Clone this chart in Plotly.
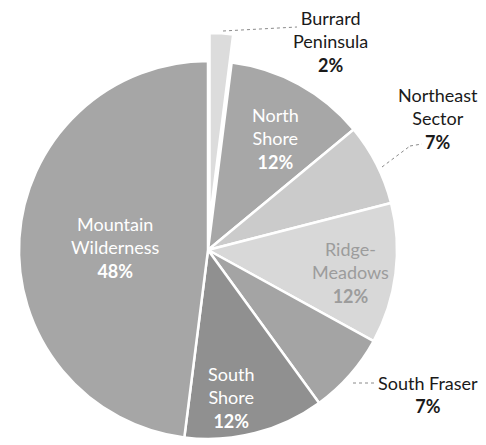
import plotly.graph_objects as go

# ---- data ----
regions = ["Burrard Peninsula", "North Shore", "Northeast Sector", "Ridge-Meadows",
           "South Fraser", "South Shore", "Mountain Wilderness"]
label_lines = ["Burrard<br>Peninsula", "North<br>Shore", "Northeast<br>Sector", "Ridge-<br>Meadows",
               "South Fraser", "South<br>Shore", "Mountain<br>Wilderness"]
shares = [2, 12, 7, 12, 7, 12, 48]
colors = ["#dcdcdc", "#a7a7a7", "#cbcbcb", "#d8d8d8", "#a4a4a4", "#909090", "#a6a6a6"]
text_colors = ["#1a1a1a", "#ffffff", "#1a1a1a", "#9c9c9c", "#1a1a1a", "#ffffff", "#ffffff"]

W, H = 486, 445
CX, CY, R = 208, 250, 189
PULL_PX = 28  # Burrard Peninsula slice is pulled out

def dom(cx, cy, r):
    return dict(x=[(cx - r) / W, (cx + r) / W], y=[(H - cy - r) / H, (H - cy + r) / H])

clear = "rgba(0,0,0,0)"
main_colors = [clear] + colors[1:]
main_lines = [clear] + ["white"] * (len(shares) - 1)

fig = go.Figure()
fig.add_trace(go.Pie(
    labels=regions, values=shares, sort=False, direction="clockwise", rotation=0,
    marker=dict(colors=main_colors, line=dict(color=main_lines, width=2.5)),
    textinfo="none", hoverinfo="label+percent", showlegend=False,
    domain=dom(CX, CY, R),
))
# pulled-out slice drawn as its own pie, shifted outward
fig.add_trace(go.Pie(
    labels=[regions[0], "rest"], values=[shares[0], sum(shares[1:])], sort=False,
    direction="clockwise", rotation=0,
    marker=dict(colors=[colors[0], clear], line=dict(color=["white", clear], width=2.5)),
    textinfo="none", hoverinfo="skip", showlegend=False,
    domain=dom(CX + 1.5, CY - PULL_PX, R),
))

# label positions (pixel centres)
label_pos = [(330, 42), (275, 138), (438, 118), (350, 272), (428, 394), (231, 397), (115, 248)]
font = "Lato, 'Open Sans', sans-serif"
for name, v, tc, (px, py) in zip(label_lines, shares, text_colors, label_pos):
    fig.add_annotation(
        x=px / W, y=1 - py / H, xref="paper", yref="paper", xanchor="center", yanchor="middle",
        text=f"{name}<br><b>{v}%</b>", showarrow=False, align="center",
        font=dict(family=font, size=18, color=tc),
    )

# leader lines (pixel paths)
leaders = [[(223, 31), (297, 27)], [(382, 167), (410, 146), (422, 144)], [(353, 383), (375, 383)]]
for pts in leaders:
    for (x0, y0), (x1, y1) in zip(pts[:-1], pts[1:]):
        fig.add_shape(type="line", xref="paper", yref="paper",
                      x0=x0 / W, y0=1 - y0 / H, x1=x1 / W, y1=1 - y1 / H,
                      line=dict(color="#8a8a8a", width=1, dash="dot"))

fig.update_layout(width=W, height=H, margin=dict(l=0, r=0, t=0, b=0),
                  paper_bgcolor="white", plot_bgcolor="white")
fig.write_html("out.html")
